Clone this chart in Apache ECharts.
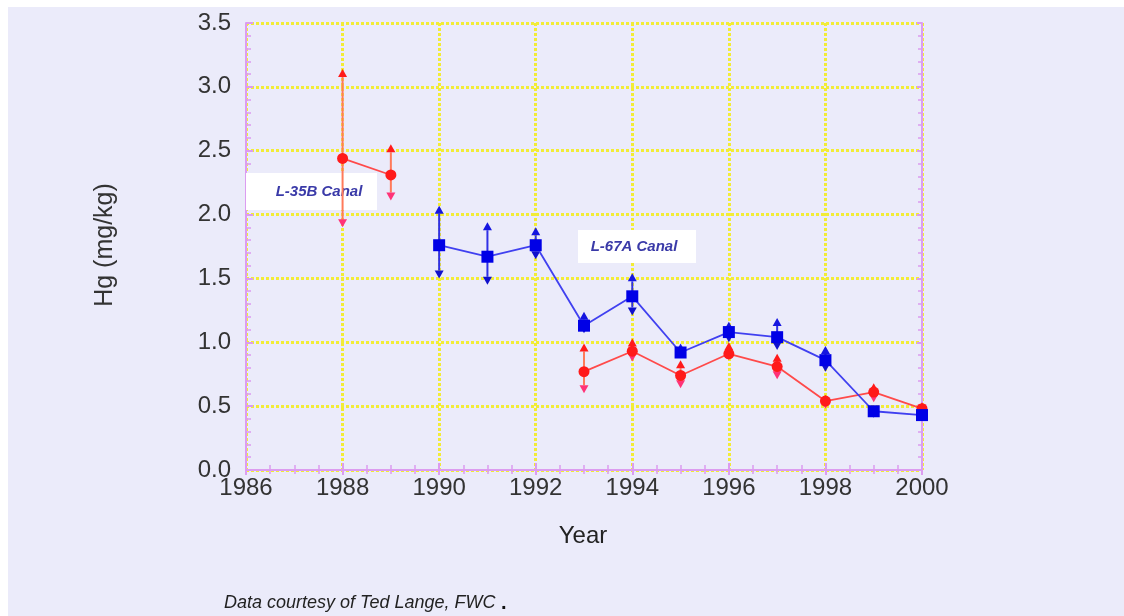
<!DOCTYPE html>
<html>
<head>
<meta charset="utf-8">
<script src="https://cdn.jsdelivr.net/npm/echarts@6/dist/echarts.min.js"></script>
<style>
    html, body { margin: 0; padding: 0; background: #ffffff; }
    #chart { position: absolute; left: 8px; top: 7px; width: 1116px; height: 609px; }
</style>
</head>
<body>
<div id="chart"></div>
<script>
    // L-35B Canal (red); null = no sample that year, so the line breaks
    const yearsL35B = [1988, 1989, 1990, 1991, 1992, 1993, 1994, 1995, 1996, 1997, 1998, 1999, 2000];
    const hgL35B = [2.44, 2.31, null, null, null, 0.77, 0.93, 0.74, 0.91, 0.81, 0.54, 0.61, 0.48];
    const hiL35B = [3.14, 2.55, null, null, null, 0.99, 1.03, 0.86, 1.00, 0.91, 0.59, 0.68, 0.53];
    const loL35B = [1.90, 2.11, null, null, null, 0.60, 0.85, 0.64, 0.86, 0.71, 0.48, 0.53, 0.45];

    // L-67A Canal (blue)
    const yearsL67A = [1990, 1991, 1992, 1993, 1994, 1995, 1996, 1997, 1998, 1999, 2000];
    const hgL67A = [1.76, 1.67, 1.76, 1.13, 1.36, 0.92, 1.08, 1.04, 0.86, 0.46, 0.43];
    const hiL67A = [2.07, 1.94, 1.90, 1.24, 1.54, 0.99, 1.16, 1.19, 0.97, 0.50, 0.46];
    const loL67A = [1.50, 1.45, 1.65, 1.07, 1.21, 0.88, 1.00, 0.94, 0.77, 0.41, 0.39];

    const chart = echarts.init(document.getElementById('chart'));

    const axisPink = '#dc9cf0';
    const gridYellow = '#f2ec36';

    // error bar: vertical line with arrow heads at both ends
    function errorBar(lineColor, upColor, downColor) {
        return function (params, api) {
            const top = api.coord([api.value(0), api.value(2)]);
            const bot = api.coord([api.value(0), api.value(1)]);
            const w = 4.5, h = 8;
            return {
                type: 'group',
                children: [
                    {
                        type: 'line',
                        shape: {x1: top[0], y1: top[1] + h, x2: bot[0], y2: bot[1] - h},
                        style: {stroke: lineColor, lineWidth: 2}
                    },
                    {
                        type: 'polygon',
                        shape: {points: [[top[0], top[1]], [top[0] - w, top[1] + h], [top[0] + w, top[1] + h]]},
                        style: {fill: upColor}
                    },
                    {
                        type: 'polygon',
                        shape: {points: [[bot[0], bot[1]], [bot[0] - w, bot[1] - h], [bot[0] + w, bot[1] - h]]},
                        style: {fill: downColor}
                    }
                ]
            };
        };
    }

    const redBars = [];
    yearsL35B.forEach((y, i) => {
        if (hgL35B[i] !== null) redBars.push([y, loL35B[i], hiL35B[i]]);
    });
    const blueBars = yearsL67A.map((y, i) => [y, loL67A[i], hiL67A[i]]);

    const sideAxis = {
        axisLine: {show: true, lineStyle: {color: axisPink, width: 2}},
        axisTick: {show: true, inside: true, length: 5, lineStyle: {color: axisPink, width: 2}},
        minorTick: {show: true, splitNumber: 4, length: 4, lineStyle: {color: axisPink, width: 1.5}},
        axisLabel: {show: false},
        splitLine: {show: false}
    };

    const option = {
        backgroundColor: '#ebebfa',
        animation: false,
        grid: {left: 238, right: 202, top: 16, bottom: 146},
        xAxis: [
            {
                type: 'value',
                min: 1986, max: 2000, interval: 2,
                axisLine: {show: true, lineStyle: {color: axisPink, width: 2}},
                axisTick: {show: true, inside: true, length: 7, lineStyle: {color: axisPink, width: 2}},
                minorTick: {show: true, splitNumber: 4, length: 5, lineStyle: {color: axisPink, width: 1.5}},
                axisLabel: {
                    color: '#333', fontSize: 24, fontFamily: 'Liberation Sans', margin: 6,
                    formatter: v => String(v)
                },
                splitLine: {show: true, lineStyle: {color: gridYellow, width: 3, type: [3, 2]}}
            },
            Object.assign({type: 'value', position: 'top', min: 1986, max: 2000, interval: 2}, sideAxis)
        ],
        yAxis: [
            {
                type: 'value',
                min: 0, max: 3.5, interval: 0.5,
                axisLine: {show: true, lineStyle: {color: axisPink, width: 2}},
                axisTick: {show: true, inside: true, length: 7, lineStyle: {color: axisPink, width: 2}},
                minorTick: {show: true, splitNumber: 5, length: 5, lineStyle: {color: axisPink, width: 1.5}},
                axisLabel: {
                    color: '#333', fontSize: 24, fontFamily: 'Liberation Sans', margin: 15,
                    formatter: v => v.toFixed(1)
                },
                splitLine: {show: true, lineStyle: {color: gridYellow, width: 3, type: [3, 2]}}
            },
            Object.assign({type: 'value', position: 'right', min: 0, max: 3.5, interval: 0.5},
                sideAxis, {minorTick: {show: true, splitNumber: 5, length: 4, lineStyle: {color: axisPink, width: 1.5}}})
        ],
        graphic: [
            {
                type: 'text', x: 97, y: 238, rotation: Math.PI / 2,
                style: {text: 'Hg (mg/kg)', font: '25px "Liberation Sans"', fill: '#333', align: 'center', verticalAlign: 'middle'}
            },
            {
                type: 'text', x: 575, y: 529,
                style: {text: 'Year', font: '24px "Liberation Sans"', fill: '#222', align: 'center', verticalAlign: 'middle'}
            },
            {
                type: 'text', x: 216, y: 596,
                style: {
                    text: '{a|Data courtesy of Ted Lange, FWC}{b| .}',
                    verticalAlign: 'middle',
                    rich: {
                        a: {font: 'italic 18px "Liberation Sans"', fill: '#222'},
                        b: {font: 'bold 20px "Liberation Sans"', fill: '#111'}
                    }
                }
            },
            {
                type: 'rect', shape: {x: 238, y: 166, width: 131, height: 37},
                style: {fill: '#ffffff'}, z: 1
            },
            {
                type: 'text', x: 311, y: 185, z: 1,
                style: {text: 'L-35B Canal', font: 'italic bold 15px "Liberation Sans"', fill: '#3a3aa8', align: 'center', verticalAlign: 'middle'}
            },
            {
                type: 'rect', shape: {x: 570, y: 223, width: 118, height: 33},
                style: {fill: '#ffffff'}, z: 1
            },
            {
                type: 'text', x: 626, y: 240, z: 1,
                style: {text: 'L-67A Canal', font: 'italic bold 15px "Liberation Sans"', fill: '#3a3aa8', align: 'center', verticalAlign: 'middle'}
            }
        ],
        series: [
            {
                type: 'custom',
                renderItem: errorBar('#ff7a5a', '#ff1a1a', '#ff3377'),
                encode: {x: 0, y: [1, 2]},
                data: redBars,
                z: 3
            },
            {
                type: 'line',
                data: yearsL35B.map((y, i) => [y, hgL35B[i]]),
                connectNulls: false,
                symbol: 'circle',
                symbolSize: 11,
                lineStyle: {color: '#ff4a4a', width: 1.8},
                itemStyle: {color: '#ff1a1a'},
                z: 4
            },
            {
                type: 'custom',
                renderItem: errorBar('#3030e6', '#1515e0', '#1010cc'),
                encode: {x: 0, y: [1, 2]},
                data: blueBars,
                z: 5
            },
            {
                type: 'line',
                data: yearsL67A.map((y, i) => [y, hgL67A[i]]),
                symbol: 'rect',
                symbolSize: 12,
                lineStyle: {color: '#4040f0', width: 1.8},
                itemStyle: {color: '#0000e6'},
                z: 6
            }
        ]
    };

    chart.setOption(option);
</script>
</body>
</html>
